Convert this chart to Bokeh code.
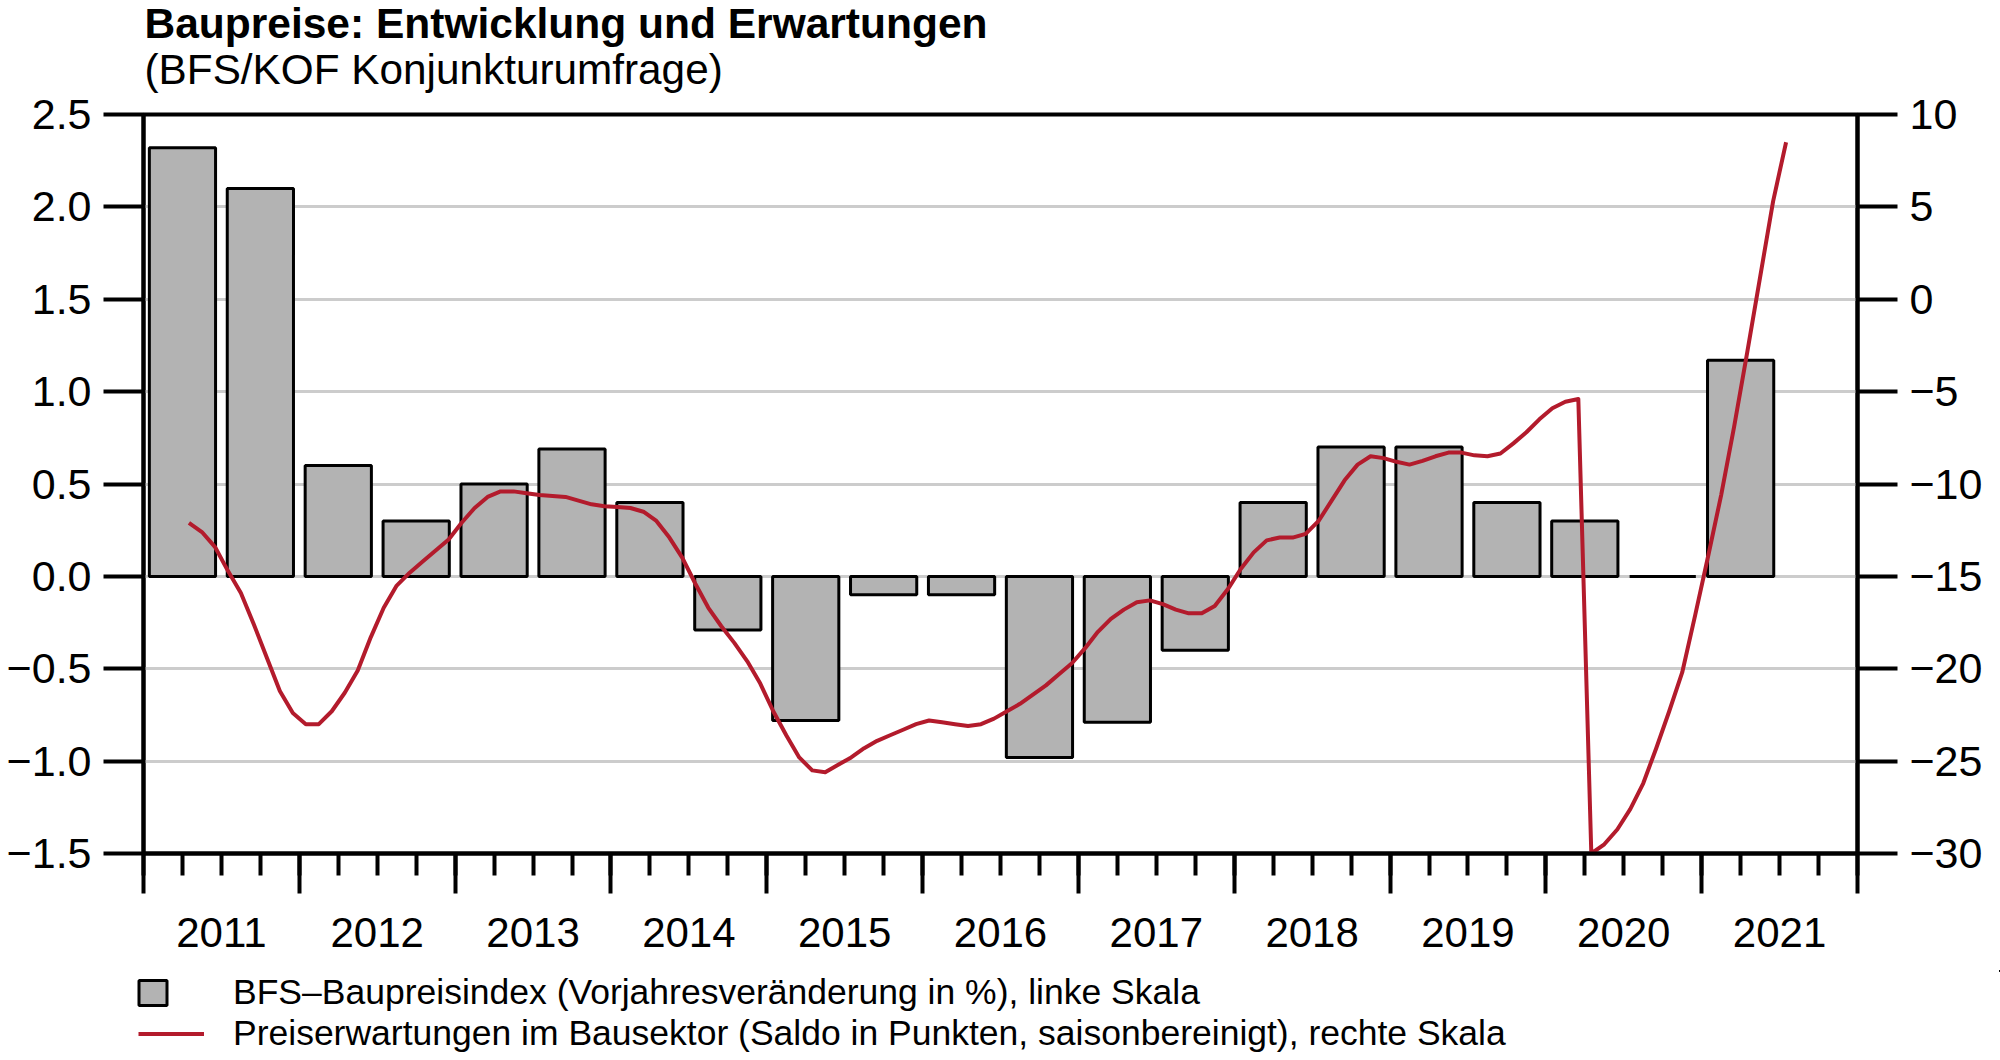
import numpy as np
from bokeh.plotting import figure
from bokeh.layouts import column
from bokeh.models import (Range1d, LinearAxis, FixedTicker, Title, Legend,
                          LegendItem, Grid, CustomLabelingPolicy)
from bokeh.embed import file_html
from bokeh.resources import INLINE

FONT = "Liberation Sans"

# ---------------- data ----------------
years = [2011, 2012, 2013, 2014, 2015, 2016, 2017, 2018, 2019, 2020, 2021]
year_labels = [str(y) for y in years]

# BFS-Baupreisindex, half-yearly (2011-H1 ... 2021-H1), % change y/y
halfyears = ["2011-H1", "2011-H2", "2012-H1", "2012-H2", "2013-H1", "2013-H2",
             "2014-H1", "2014-H2", "2015-H1", "2015-H2", "2016-H1", "2016-H2",
             "2017-H1", "2017-H2", "2018-H1", "2018-H2", "2019-H1", "2019-H2",
             "2020-H1", "2020-H2", "2021-H1"]
bfs_index = [2.32, 2.10, 0.60, 0.30, 0.50, 0.69, 0.40, -0.29, -0.78, -0.10,
             -0.10, -0.98, -0.79, -0.40, 0.40, 0.70, 0.70, 0.40, 0.30, 0.00,
             1.17]

# Preiserwartungen im Bausektor, monthly from April 2011 (Saldo, s.a.)
expect_first_month = (2011, 4)
expectations = [
    -12.1, -12.6, -13.4, -14.7, -15.9, -17.6, -19.4, -21.2, -22.4,          # 2011 Apr-Dec
    -23.0, -23.0, -22.3, -21.3, -20.1, -18.3, -16.7, -15.5, -14.8, -14.2, -13.6, -13.0,  # 2012
    -12.1, -11.3, -10.7, -10.4, -10.4, -10.5, -10.6, -10.65, -10.7, -10.9, -11.1, -11.2,  # 2013
    -11.25, -11.3, -11.5, -12.0, -12.9, -14.0, -15.4, -16.7, -17.7, -18.6, -19.6, -20.8,  # 2014
    -22.3, -23.6, -24.8, -25.5, -25.6, -25.2, -24.8, -24.3, -23.9, -23.6, -23.3, -23.0,  # 2015
    -22.8, -22.9, -23.0, -23.1, -23.0, -22.7, -22.3, -21.9, -21.4, -20.9, -20.3, -19.7,  # 2016
    -18.9, -18.0, -17.3, -16.8, -16.4, -16.3, -16.5, -16.8, -17.0, -17.0, -16.6, -15.7,  # 2017
    -14.6, -13.7, -13.05, -12.9, -12.9, -12.7, -12.0, -10.9, -9.8, -8.95, -8.5, -8.6,    # 2018
    -8.8, -8.95, -8.75, -8.5, -8.3, -8.3, -8.45, -8.5, -8.35, -7.8, -7.2, -6.5,          # 2019
    -5.9, -5.55, -5.4, -30.0, -29.5, -28.7, -27.6, -26.2, -24.3, -22.3, -20.2, -17.1,   # 2020
    -13.9, -10.6, -6.9, -2.9, 1.2, 5.3, 8.5,                                             # 2021 Jan-Jul
]

left_ticks = [-1.5, -1.0, -0.5, 0.0, 0.5, 1.0, 1.5, 2.0, 2.5]
right_ticks = [-30, -25, -20, -15, -10, -5, 0, 5, 10]

legend_labels = ["BFS\u2013Baupreisindex (Vorjahresveränderung in %), linke Skala",
                 "Preiserwartungen im Bausektor (Saldo in Punkten, saisonbereinigt), rechte Skala"]

# ---------------- positions (months since Jan 2011) ----------------
bar_x = [6 * i + 3 for i in range(len(bfs_index))]
m0 = (expect_first_month[0] - 2011) * 12 + (expect_first_month[1] - 1)
line_x = [m0 + i + 0.5 for i in range(len(expectations))]
n_months = 12 * len(years)
year_bounds = [12 * i for i in range(len(years) + 1)]
quarters = [3 * i for i in range(4 * len(years) + 1)]
year_pos = [12 * i + 6 for i in range(len(years))]

def fmt(v, nd):
    s = f"{abs(v):.{nd}f}"
    return ("\u2212" + s) if v < 0 else s

W = 2000
H_MAIN, H_LEG = 970, 90
FL, FR, FT, FB = 143, 1857, 114, 853   # frame edges in canvas px

BAR_FILL = "#b3b3b3"
RED = "#b31b2c"

p = figure(width=W, height=H_MAIN, output_backend="svg", toolbar_location=None,
           x_range=Range1d(0, n_months), y_range=Range1d(-1.5, 2.5),
           x_axis_type=None, y_axis_type=None,
           min_border_left=FL, min_border_right=W - FR,
           min_border_top=FT, min_border_bottom=H_MAIN - FB)
p.frame_align = False
p.extra_y_ranges = {"right": Range1d(-30, 10)}
p.background_fill_color = "white"
p.border_fill_color = "white"
p.outline_line_color = "black"
p.outline_line_width = 4

# grid
grid = Grid(dimension=1, ticker=FixedTicker(ticks=[-1.0, -0.5, 0.0, 0.5, 1.0, 1.5, 2.0]),
            grid_line_color="#cccccc", grid_line_width=3)
p.add_layout(grid)

bar_style = dict(fill_color=BAR_FILL, line_color="black", line_width=3)
line_style = dict(line_color=RED, line_width=4, line_join="round")

# bars
bars = p.vbar(x=bar_x, top=bfs_index, bottom=0, width=5.1, **bar_style)
# line
line = p.line(x=line_x, y=expectations, y_range_name="right", **line_style)

tick_style = dict(axis_line_width=4, major_tick_line_width=4, minor_tick_line_width=4,
                  axis_line_color="black", major_tick_line_color="black",
                  minor_tick_line_color="black",
                  major_label_text_font=FONT, major_label_text_color="black")

# left axis
yl = LinearAxis(ticker=FixedTicker(ticks=left_ticks, minor_ticks=[]),
                major_tick_out=40, major_tick_in=0, minor_tick_out=0,
                major_label_standoff=12, major_label_text_font_size="43px",
                major_label_overrides={t: fmt(t, 1) for t in left_ticks}, **tick_style)
p.add_layout(yl, "left")
# right axis
yr = LinearAxis(y_range_name="right", ticker=FixedTicker(ticks=right_ticks, minor_ticks=[]),
                major_tick_out=40, major_tick_in=0, minor_tick_out=0,
                major_label_standoff=12, major_label_text_font_size="43px",
                major_label_overrides={t: fmt(t, 0) for t in right_ticks}, **tick_style)
p.add_layout(yr, "right")

# x axis 1: long ticks at year boundaries, short quarter ticks, no labels
xt = LinearAxis(ticker=FixedTicker(ticks=year_bounds, minor_ticks=quarters),
                major_tick_out=40, major_tick_in=0, minor_tick_out=22, minor_tick_in=0,
                major_label_standoff=0, major_label_text_font_size="1px",
                major_label_policy=CustomLabelingPolicy(code="return []"),
                **tick_style)
p.add_layout(xt, "below")
# x axis 2: year labels centred in each year
xl = LinearAxis(ticker=FixedTicker(ticks=year_pos, minor_ticks=[]),
                major_tick_out=0, major_tick_in=0, minor_tick_out=0,
                axis_line_color=None, major_tick_line_color=None,
                major_label_standoff=20, major_label_text_font_size="42px",
                major_label_text_font=FONT, major_label_text_color="black",
                major_label_overrides={pos: lab for pos, lab in zip(year_pos, year_labels)})
p.add_layout(xl, "below")

# titles
sub = Title(text="(BFS/KOF Konjunkturumfrage)", align="left", offset=1,
            text_font=FONT, text_font_size="42.3px", text_font_style="normal",
            text_color="black", standoff=44)
main = Title(text="Baupreise: Entwicklung und Erwartungen", align="left", offset=1,
             text_font=FONT, text_font_size="42.5px", text_font_style="bold",
             text_color="black", standoff=-50)
p.add_layout(sub, "above")
p.add_layout(main, "above")

# ---------------- legend strip below ----------------
q = figure(width=W, height=H_LEG, output_backend="svg", toolbar_location=None,
           x_range=Range1d(-1000, -999), y_range=Range1d(-1000, -999),
           x_axis_type=None, y_axis_type=None,
           min_border_left=0, min_border_right=0, min_border_top=0, min_border_bottom=0)
q.frame_align = False
q.outline_line_color = None
q.background_fill_color = "white"
q.border_fill_color = "white"
# legend proxies: same series, lying outside this strip's (empty) view
lg_bar = q.vbar(x=bar_x, top=bfs_index, bottom=0, width=5.1, **bar_style)
lg_line = q.line(x=line_x, y=expectations, **line_style)

leg_common = dict(orientation="vertical", padding=0, margin=0,
                  spacing=0, border_line_color=None, background_fill_alpha=0,
                  label_text_font=FONT, label_text_font_size="35.5px",
                  label_text_color="black", label_height=41)
c1 = 992 - H_MAIN
c2 = 1033 - H_MAIN
leg1 = Legend(items=[LegendItem(label=legend_labels[0], renderers=[lg_bar])],
              location=(135, int(H_LEG - (c1 + 20.5))),
              glyph_width=35, glyph_height=31, label_standoff=63, **leg_common)
leg2 = Legend(items=[LegendItem(label=legend_labels[1], renderers=[lg_line])],
              location=(138, int(H_LEG - (c2 + 20.5))),
              glyph_width=66, glyph_height=31, label_standoff=29, **leg_common)
q.add_layout(leg1)
q.add_layout(leg2)

layout = column(p, q, spacing=0)
open("out.html", "w").write(file_html(layout, INLINE))
